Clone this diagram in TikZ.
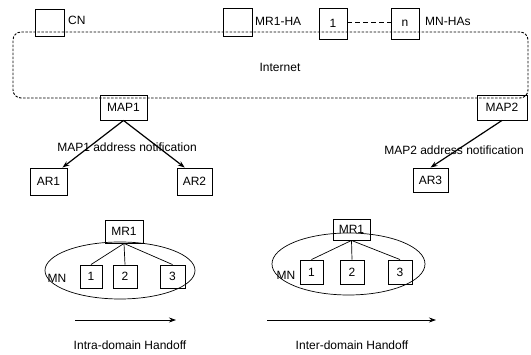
\documentclass[tikz,border=0pt]{standalone}
\usepackage{fontspec}
\setmainfont{Liberation Sans}
\usetikzlibrary{shapes.geometric, arrows.meta}

\tikzset{
  box/.style={draw, rectangle, inner sep=0pt, line width=0.9pt},
  lbl/.style={inner sep=0pt},
  notif/.style={-{Stealth[length=7pt,width=5pt]}, line width=1.2pt},
  move/.style={-{Stealth[length=7pt,width=5pt]}, line width=0.8pt},
  mrlink/.style={line width=0.7pt},
  domainarea/.style={draw, ellipse, line width=0.7pt, inner sep=0pt}
}

\begin{document}
\begin{tikzpicture}[x=1pt, y=-1pt, font=\fontsize{12}{14}\selectfont]
            \useasboundingbox (0,0) rectangle (531,355);

            \node[draw, rounded corners=8pt, dash pattern=on 2.5pt off 1.5pt, line width=0.9pt,
              minimum width=515pt, minimum height=66pt] (internet) at (270.5,65) {};
            \node[lbl] (internettext) at (280,67) {Internet};

            \node[box, minimum width=29pt, minimum height=27pt] (cn) at (49.5,22.5) {};
            \node[lbl, anchor=west] (cntext) at (68,20) {CN};
            \node[box, minimum width=29pt, minimum height=28pt] (mrha) at (237.5,22) {};
            \node[lbl, anchor=west] (mrhatext) at (255,21) {MR1-HA};
            \node[box, minimum width=28pt, minimum height=31pt] (ha1) at (333,23.5) {1};
            \node[box, minimum width=28pt, minimum height=31pt] (han) at (405,23.5) {n};
            \node[lbl, anchor=west] (hastext) at (425,21) {MN-HAs};
            \draw[line width=0.9pt, dash pattern=on 5pt off 3pt] (ha1.east |- 0,22) -- (han.west |- 0,22);

            \node[box, minimum width=47pt, minimum height=25pt] (map1) at (123.5,107.5) {MAP1};
            \node[box, minimum width=50pt, minimum height=25pt] (map2) at (502,107.5) {MAP2};
            \node[box, minimum width=37pt, minimum height=27pt] (ar1) at (48.5,181.5) {AR1};
            \node[box, minimum width=35pt, minimum height=27pt] (ar2) at (194.5,181.5) {AR2};
            \node[box, minimum width=35pt, minimum height=24pt] (ar3) at (430.5,180) {AR3};

            \draw[notif] (map1.south) -- (ar1.45);
            \draw[notif] (map1.south) -- (ar2.125);
            \draw[notif] (map2.south) -- (ar3.north);
            \node[lbl] (notif1) at (127,147) {MAP1 address notification};
            \node[lbl] (notif2) at (454,150) {MAP2 address notification};

            \node[domainarea, minimum width=150pt, minimum height=57pt] (dom1) at (120,270.5) {};
            \node[box, minimum width=38pt, minimum height=23pt] (mra) at (124,231.5) {MR1};
            \node[box, minimum width=22pt, minimum height=23pt] (mna1) at (91,276.5) {1};
            \node[box, minimum width=24pt, minimum height=23pt] (mna2) at (125,276.5) {2};
            \node[box, minimum width=25pt, minimum height=23pt] (mna3) at (172.5,276.5) {3};
            \node[lbl] (mnatext) at (57,278) {MN};
            \draw[mrlink] (mra.south) -- (mna1.north);
            \draw[mrlink] (mra.south) -- (mna2.north);
            \draw[mrlink] (mra.south) -- (mna3.north);

            \node[domainarea, minimum width=153pt, minimum height=62pt] (dom2) at (348.5,264) {};
            \node[box, minimum width=37pt, minimum height=21pt] (mrb) at (351.5,229.5) {MR1};
            \node[box, minimum width=23pt, minimum height=24pt] (mnb1) at (311.5,272) {1};
            \node[box, minimum width=24pt, minimum height=24pt] (mnb2) at (352,272) {2};
            \node[box, minimum width=24pt, minimum height=24pt] (mnb3) at (400,272) {3};
            \node[lbl] (mnbtext) at (286,275) {MN};
            \draw[mrlink] (mrb.south) -- (mnb1.north);
            \draw[mrlink] (mrb.south) -- (mnb2.north);
            \draw[mrlink] (mrb.south) -- (mnb3.north);

            \coordinate (intrastart) at (75,320);
            \coordinate (intraend) at (176,320);
            \coordinate (interstart) at (267,320);
            \coordinate (interend) at (436,320);
            \draw[move] (intrastart) -- (intraend);
            \draw[move] (interstart) -- (interend);
            \node[lbl] (intratext) at (130,345) {Intra-domain Handoff};
            \node[lbl] (intertext) at (352,345) {Inter-domain Handoff};

        \end{tikzpicture}
\end{document}
